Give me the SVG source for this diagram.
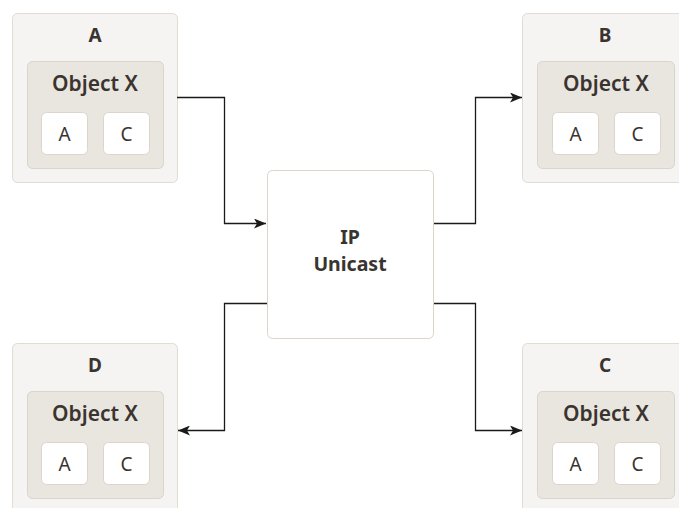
<svg xmlns="http://www.w3.org/2000/svg" width="679" height="508" viewBox="0 0 679 508">
<defs>
<style>
.outer{fill:#f5f4f2;stroke:#e2dbd2;stroke-width:1}
.inner{fill:#e9e5df;stroke:#dcd4ca;stroke-width:1}
.cell{fill:#ffffff;stroke:#ddd5cb;stroke-width:1}
.center{fill:#ffffff;stroke:#ddd5cb;stroke-width:1}
text{font-family:"Noto Sans","Open Sans","Liberation Sans",sans-serif;fill:#3a3430;text-anchor:middle}
.hdr{font-size:19px;font-weight:700}
.obj{font-size:21px;font-weight:600}
.lbl{font-size:19px;font-weight:400}
.ctr{font-size:19.5px;font-weight:700}
.conn{fill:none;stroke:#1a1a1a;stroke-width:1.3}
</style>
<marker id="arr" viewBox="0 0 12 10" refX="12" refY="5" markerWidth="12" markerHeight="10" markerUnits="userSpaceOnUse" orient="auto">
<path d="M0,0 L12,5 L0,10 L3,5 Z" fill="#1a1a1a"/>
</marker>
</defs>
<g id="node-A">
<rect class="outer" x="12.5" y="13.5" width="165" height="169" rx="5"/>
<text class="hdr" x="95" y="42">A</text>
<rect class="inner" x="27.5" y="61.5" width="136" height="107" rx="5"/>
<text class="obj" x="95" y="91">Object X</text>
<rect class="cell" x="41.5" y="112.5" width="46" height="42" rx="5"/>
<text class="lbl" x="64.5" y="141">A</text>
<rect class="cell" x="103.5" y="112.5" width="46" height="42" rx="5"/>
<text class="lbl" x="126.5" y="141">C</text>
</g>
<g id="node-B">
<rect class="outer" x="522.5" y="13.5" width="165" height="169" rx="5"/>
<text class="hdr" x="605" y="42">B</text>
<rect class="inner" x="537.5" y="61.5" width="137" height="107" rx="5"/>
<text class="obj" x="606" y="91">Object X</text>
<rect class="cell" x="552.5" y="112.5" width="46" height="42" rx="5"/>
<text class="lbl" x="575.5" y="141">A</text>
<rect class="cell" x="614.5" y="112.5" width="46" height="42" rx="5"/>
<text class="lbl" x="637.5" y="141">C</text>
</g>
<g id="node-D">
<rect class="outer" x="12.5" y="343.5" width="165" height="169" rx="5"/>
<text class="hdr" x="95" y="372">D</text>
<rect class="inner" x="27.5" y="391.5" width="136" height="107" rx="5"/>
<text class="obj" x="95" y="421">Object X</text>
<rect class="cell" x="41.5" y="442.5" width="46" height="42" rx="5"/>
<text class="lbl" x="64.5" y="471">A</text>
<rect class="cell" x="103.5" y="442.5" width="46" height="42" rx="5"/>
<text class="lbl" x="126.5" y="471">C</text>
</g>
<g id="node-C">
<rect class="outer" x="522.5" y="343.5" width="165" height="169" rx="5"/>
<text class="hdr" x="605" y="372">C</text>
<rect class="inner" x="537.5" y="391.5" width="137" height="107" rx="5"/>
<text class="obj" x="606" y="421">Object X</text>
<rect class="cell" x="552.5" y="442.5" width="46" height="42" rx="5"/>
<text class="lbl" x="575.5" y="471">A</text>
<rect class="cell" x="614.5" y="442.5" width="46" height="42" rx="5"/>
<text class="lbl" x="637.5" y="471">C</text>
</g>
<g id="node-IP">
<rect class="center" x="267.5" y="170.5" width="166" height="168" rx="5"/>
<text class="ctr" x="350" y="244">IP</text>
<text class="ctr" x="350" y="271">Unicast</text>
</g>
<g id="connectors">
<path class="conn" d="M177,97.5 H224.5 V223.5 H266" marker-end="url(#arr)"/>
<path class="conn" d="M434,223.5 H475.5 V97.5 H522" marker-end="url(#arr)"/>
<path class="conn" d="M267,303.5 H224.5 V430.5 H178" marker-end="url(#arr)"/>
<path class="conn" d="M434,303.5 H475.5 V430.5 H522" marker-end="url(#arr)"/>
</g>
</svg>
